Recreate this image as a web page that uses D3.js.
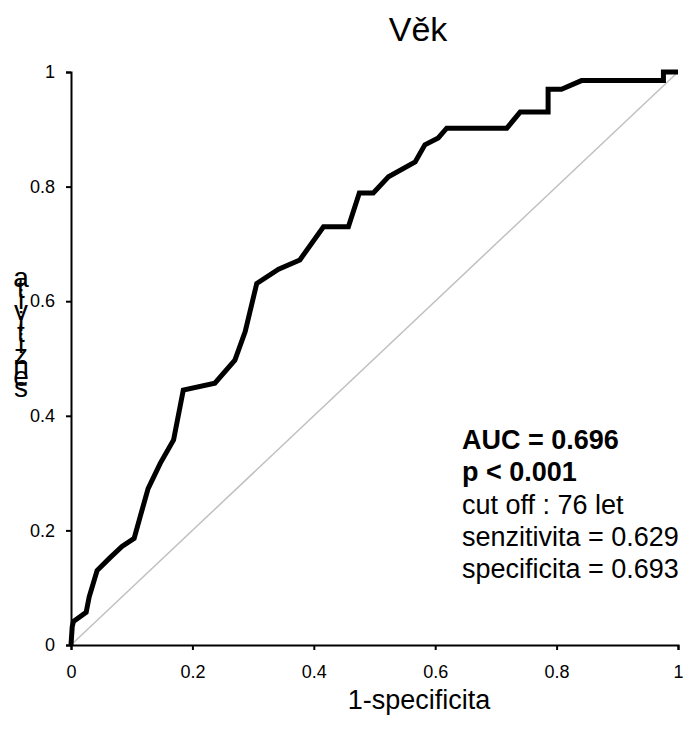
<!DOCTYPE html>
<html><head><meta charset="utf-8">
<script src="https://cdn.jsdelivr.net/npm/d3@7"></script>
<style>body{margin:0;background:#fff}svg{display:block}text{font-family:"Liberation Sans",Arial,sans-serif}</style>
</head><body>
<svg id="c" width="686" height="738"></svg>
<script>
const title = "Věk";
const xLabel = "1-specificita";
const yLabel = "senzitivita";
const xTicks = [0, 0.2, 0.4, 0.6, 0.8, 1];
const yTicks = [0, 0.2, 0.4, 0.6, 0.8, 1];
const fpr = [0, 0.002, 0.004, 0.025, 0.030, 0.043, 0.064, 0.084, 0.104, 0.114, 0.127, 0.147, 0.169, 0.185, 0.237, 0.270, 0.287, 0.306, 0.342, 0.377, 0.416, 0.457, 0.475, 0.498, 0.523, 0.567, 0.583, 0.605, 0.619, 0.718, 0.740, 0.786, 0.786, 0.808, 0.841, 0.976, 0.976, 1];
const tpr = [0, 0.032, 0.041, 0.057, 0.084, 0.130, 0.152, 0.172, 0.186, 0.224, 0.273, 0.317, 0.358, 0.445, 0.457, 0.497, 0.547, 0.631, 0.656, 0.672, 0.730, 0.730, 0.789, 0.789, 0.817, 0.843, 0.873, 0.885, 0.902, 0.902, 0.930, 0.930, 0.970, 0.970, 0.985, 0.985, 1, 1];
const refX = [0, 1];
const refY = [0, 1];
const annBold = ["AUC = 0.696", "p < 0.001"];
const annText = ["cut off : 76 let", "senzitivita = 0.629", "specificita = 0.693"];

const svg = d3.select("#c");
const x = d3.scaleLinear().domain([0, 1]).range([71, 678]);
const y = d3.scaleLinear().domain([0, 1]).range([645, 72]);

// reference diagonal
svg.append("path")
  .datum(refX.map((v, i) => [v, refY[i]]))
  .attr("fill", "none").attr("stroke", "#c0c0c0").attr("stroke-width", 1.5)
  .attr("d", d3.line().x(d => x(d[0])).y(d => y(d[1])));

// axes
const xa = svg.append("g").attr("transform", "translate(0,645)")
  .call(d3.axisBottom(x).tickValues(xTicks).tickFormat(d3.format("")).tickSize(5).tickPadding(15));
const ya = svg.append("g").attr("transform", "translate(71,0)")
  .call(d3.axisLeft(y).tickValues(yTicks).tickFormat(d3.format("")).tickSize(5).tickPadding(11));
[xa, ya].forEach(g => {
  g.select(".domain").attr("stroke", "#000").attr("stroke-width", 2);
  g.selectAll(".tick line").attr("stroke", "#000").attr("stroke-width", 2);
  g.selectAll(".tick text").attr("fill", "#000").style("font-size", "18px").style("font-family", "'Liberation Sans', Arial, sans-serif");
});

// ROC curve
svg.append("path")
  .datum(fpr.map((v, i) => [v, tpr[i]]))
  .attr("fill", "none").attr("stroke", "#000").attr("stroke-width", 5)
  .attr("stroke-linejoin", "miter")
  .attr("d", d3.line().x(d => x(d[0])).y(d => y(d[1])));

// title
svg.append("text").attr("x", 418).attr("y", 41).attr("text-anchor", "middle")
  .style("font-size", "34px").text(title);

// x label
svg.append("text").attr("x", 419).attr("y", 709).attr("text-anchor", "middle")
  .style("font-size", "27px").text(xLabel);

// y label stacked letters (bottom to top), as in the reference
const chars = yLabel.split("");
svg.append("g").selectAll("text").data(chars).join("text")
  .attr("x", 21).attr("y", (d, i) => 397 - i * 11)
  .attr("text-anchor", "middle").style("font-size", "28px").text(d => d);

// annotations
const ann = svg.append("g");
annBold.forEach((t, i) => {
  ann.append("text").attr("x", 462).attr("y", 449 + i * 32)
    .style("font-size", "27px").style("font-weight", "bold").text(t);
});
annText.forEach((t, i) => {
  ann.append("text").attr("x", 462).attr("y", 450 + (i + 2) * 32)
    .style("font-size", "27px").text(t);
});
</script>
</body></html>
